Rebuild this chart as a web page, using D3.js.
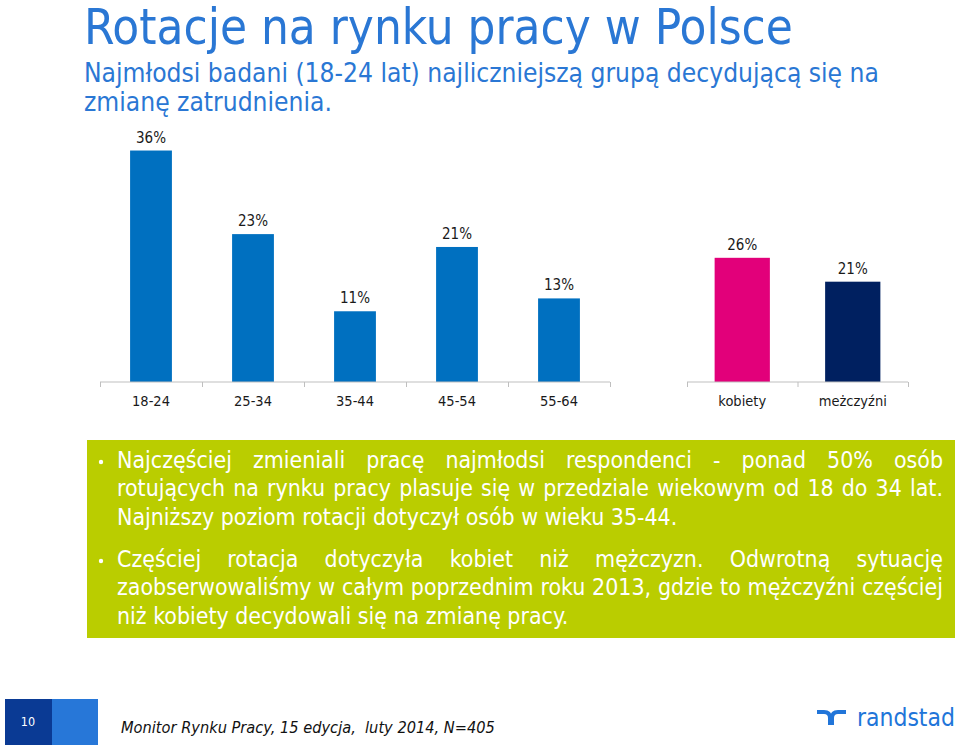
<!DOCTYPE html>
<html><head><meta charset="utf-8">
<script src="https://cdn.jsdelivr.net/npm/d3@7"></script>
<style>
html,body{margin:0;padding:0;background:#fff;}
svg{display:block;}
</style></head>
<body>
<script>
const ageCategories = ["18-24","25-34","35-44","45-54","55-64"];
const ageValues = [36,23,11,21,13];
const genderCategories = ["kobiety","meżczyźni"];
const genderValues = [26,21];
const genderColors = ["#e2007a","#002060"];
const titleText = "Rotacje na rynku pracy w Polsce";
const subtitleLines = ["Najmłodsi badani (18-24 lat) najliczniejszą grupą decydującą się na","zmianę zatrudnienia."];
const para1 = ["Najczęściej zmieniali pracę najmłodsi respondenci - ponad 50% osób","rotujących na rynku pracy plasuje się w przedziale wiekowym od 18 do 34 lat.","Najniższy poziom rotacji dotyczył osób w wieku 35-44."];
const para2 = ["Częściej rotacja dotyczyła kobiet niż mężczyzn. Odwrotną sytuację","zaobserwowaliśmy w całym poprzednim roku 2013, gdzie to mężczyźni częściej","niż kobiety decydowali się na zmianę pracy."];
const footerText = "Monitor Rynku Pracy, 15 edycja,  luty 2014, N=405";
const pageNumber = "10";

const W=960,H=747;
const FONT = "'DejaVu Sans Condensed','DejaVu Sans',sans-serif";
const svg = d3.select("body").append("svg").attr("width",W).attr("height",H).style("font-family",FONT);

function measure(t,fs,extra){
  const tmp=svg.append("text").attr("font-size",fs).style("white-space","pre").text(t);
  if(extra) extra(tmp);
  const w=tmp.node().getComputedTextLength(); tmp.remove(); return w;
}
function fitSize(t,width,extra){ return 20*width/measure(t,20,extra); }

// Title
const tfs = fitSize(titleText,709);
svg.append("text").attr("x",84).attr("y",44).attr("font-size",tfs).attr("fill","#2a77d4").text(titleText);
const sfs = fitSize(subtitleLines[0],795);
subtitleLines.forEach((t,i)=>{
  svg.append("text").attr("x",84).attr("y",82+i*29).attr("font-size",sfs).attr("fill","#2a77d4").text(t);
});

// Left chart
const base=382;
const xA = d3.scaleBand().domain(ageCategories).range([100,610]).paddingInner(0.59).paddingOuter(0.295);
const yA = d3.scaleLinear().domain([0,40]).range([base,base-257.2]);
const gA = svg.append("g");
gA.selectAll("rect").data(ageValues).join("rect")
  .attr("x",(d,i)=>xA(ageCategories[i])).attr("width",xA.bandwidth())
  .attr("y",d=>yA(d)).attr("height",d=>base-yA(d)).attr("fill","#0070c0");
gA.selectAll("text.v").data(ageValues).join("text").attr("class","v")
  .attr("x",(d,i)=>xA(ageCategories[i])+xA.bandwidth()/2).attr("y",d=>yA(d)-8)
  .attr("text-anchor","middle").attr("font-size",15).attr("fill","#1a1a1a").text(d=>d+"%");
const axA = d3.axisBottom(d3.scalePoint().domain(d3.range(6)).range([100,610])).tickSize(5).tickFormat("");
const gAx = svg.append("g").attr("transform",`translate(0,${base})`).call(axA);
gAx.select(".domain").attr("stroke","#bfbfbf").attr("d","M100,0H610");
gAx.selectAll(".tick line").attr("stroke","#bfbfbf");
svg.append("g").selectAll("text").data(ageCategories).join("text")
  .attr("x",d=>xA(d)+xA.bandwidth()/2).attr("y",406).attr("text-anchor","middle")
  .attr("font-size",14.5).attr("fill","#1a1a1a").text(d=>d);

// Right chart
const xG = d3.scaleBand().domain(genderCategories).range([687,908]).paddingInner(0.5).paddingOuter(0.25);
const yG = d3.scaleLinear().domain([0,30]).range([base,base-143.3]);
const gG = svg.append("g");
gG.selectAll("rect").data(genderValues).join("rect")
  .attr("x",(d,i)=>xG(genderCategories[i])).attr("width",xG.bandwidth())
  .attr("y",d=>yG(d)).attr("height",d=>base-yG(d)).attr("fill",(d,i)=>genderColors[i]);
gG.selectAll("text.v").data(genderValues).join("text").attr("class","v")
  .attr("x",(d,i)=>xG(genderCategories[i])+xG.bandwidth()/2).attr("y",d=>yG(d)-8)
  .attr("text-anchor","middle").attr("font-size",15).attr("fill","#1a1a1a").text(d=>d+"%");
const axG = d3.axisBottom(d3.scalePoint().domain(d3.range(3)).range([687,908])).tickSize(5).tickFormat("");
const gGx = svg.append("g").attr("transform",`translate(0,${base})`).call(axG);
gGx.select(".domain").attr("stroke","#bfbfbf").attr("d","M687,0H908");
gGx.selectAll(".tick line").attr("stroke","#bfbfbf");
svg.append("g").selectAll("text").data(genderCategories).join("text")
  .attr("x",d=>xG(d)+xG.bandwidth()/2).attr("y",406).attr("text-anchor","middle")
  .attr("font-size",14.5).attr("fill","#1a1a1a").text(d=>d);

// Green box
svg.append("rect").attr("x",87).attr("y",440).attr("width",868).attr("height",198).attr("fill","#bacd00");
const tx=117, tr=943;
const fs = (fitSize(para2[2],453)+fitSize(para1[2],559))/2;
function justLine(t,y){
  const words=t.split(/\s+/);
  const ws=words.map(w=>measure(w,fs));
  const gap=(tr-tx-d3.sum(ws))/(words.length-1);
  let x=tx;
  const g=svg.append("text").attr("y",y).attr("font-size",fs).attr("fill","#fff");
  words.forEach((w,i)=>{g.append("tspan").attr("x",x).text(w); x+=ws[i]+gap;});
}
function plainLine(t,y){
  svg.append("text").attr("x",tx).attr("y",y).attr("font-size",fs).attr("fill","#fff").text(t);
}
function bullet(y){svg.append("circle").attr("cx",101).attr("cy",y-6).attr("r",2.2).attr("fill","#fff");}
bullet(468);
justLine(para1[0],468); justLine(para1[1],496); plainLine(para1[2],525);
bullet(567);
justLine(para2[0],567); justLine(para2[1],595); plainLine(para2[2],624);

// Footer
svg.append("rect").attr("x",5).attr("y",699).attr("width",47).attr("height",46).attr("fill","#0a3a94");
svg.append("rect").attr("x",52).attr("y",699).attr("width",46).attr("height",46).attr("fill","#2777d8");
svg.append("text").attr("x",28).attr("y",726).attr("text-anchor","middle").attr("font-size",12.5).attr("fill","#fff").text(pageNumber);
const ffs = fitSize(footerText,374,s=>s.attr("font-style","italic"));
svg.append("text").attr("x",121).attr("y",733).attr("font-size",ffs).attr("font-style","italic").attr("fill","#111")
  .style("white-space","pre").text(footerText);

// randstad logo
const lg=svg.append("g").attr("fill","none").attr("stroke","#2175d9").attr("stroke-width",4);
lg.append("path").attr("d","M817,712 H824 Q830,712 830,718 V725");
lg.append("path").attr("d","M832,725 V718 Q832,712 838,712 H846");
const rfs = fitSize("randstad",98);
svg.append("text").attr("x",857).attr("y",726).attr("font-size",rfs).attr("fill","#2175d9").text("randstad");
</script>
</body></html>
